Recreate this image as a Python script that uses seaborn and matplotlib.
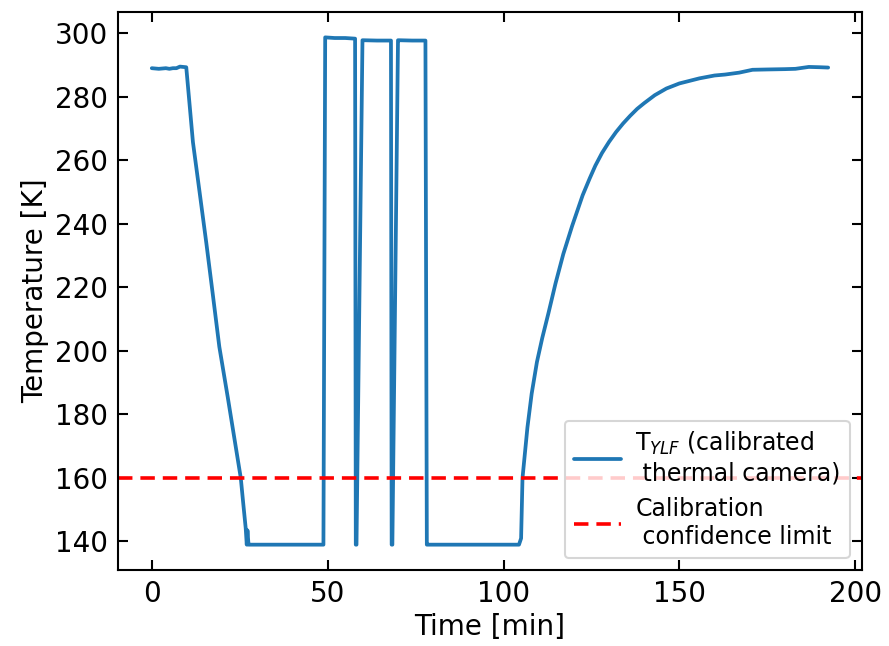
import numpy as np
import pandas as pd
import matplotlib
matplotlib.use("Agg")
import matplotlib.pyplot as plt
import seaborn as sns

# Time [min]
time_min = [0, 2, 4, 5, 6, 7, 8, 9.8, 11.7, 13.6, 15.5, 17.3, 19.2, 21.6, 23.9,
            25.3, 26.0, 26.7, 27.0, 27.2, 27.5, 28.0, 48.0, 48.8, 49.3, 52.0, 55.0, 57.8, 58.0, 58.2,
            59.9, 60.2, 64.0, 68.0, 68.2, 68.4, 70.0, 70.3, 74.0, 77.8, 78.2, 78.5, 104.4, 105.0, 105.4,
            106.8, 108.0, 109.5, 111.0, 112.8, 114.8, 117.0, 119.5, 122.5, 124.5, 126.1, 128.0, 130.0,
            132.0, 134.0, 136.0, 138.0, 140.0,
            143.0, 146.3, 150.0, 155.7, 160.0, 163.0, 167.0, 170.8, 175.0, 180.0, 183.0, 186.8, 190.0, 192.3]
# Temperature [K]
temp_k = [289.0, 288.8, 289.0, 288.8, 289.0, 289.0, 289.5, 289.3, 265.7, 249.9, 234.0, 218.2, 201.3, 185.4, 169.6,
          160.0, 152.0, 144.2, 139.0, 143.5, 139.0, 139.0, 139.0, 139.0, 298.7, 298.5, 298.5, 298.3, 139.0, 139.0,
          297.8, 297.8, 297.7, 297.7, 139.0, 139.0, 297.8, 297.8, 297.7, 297.7, 139.0, 139.0, 139.0, 141.0, 160.0,
          175.9, 186.5, 196.5, 204.0, 212.0, 221.3, 230.5, 239.3, 249.0, 254.3, 258.3, 262.3, 265.8,
          268.9, 271.6, 274.0, 276.2, 278.0,
          280.5, 282.6, 284.2, 285.8, 286.7, 287.0, 287.6, 288.5, 288.6, 288.7, 288.8, 289.4, 289.3, 289.2]

limit_value = 160
series_label = "T$_{YLF}$ (calibrated\n thermal camera)"
limit_label = "Calibration\n confidence limit"

df = pd.DataFrame({"Time [min]": time_min, "Temperature [K]": temp_k})

sns.set_style("ticks")
plt.rcParams["font.family"] = ["DejaVu Sans"]
plt.rcParams["text.color"] = "black"
plt.rcParams["axes.labelcolor"] = "black"
plt.rcParams["xtick.color"] = "black"
plt.rcParams["ytick.color"] = "black"

fig = plt.figure(figsize=(8.89, 6.46), dpi=100)
ax = fig.add_axes([0.1327, 0.1176, 0.8369, 0.8638])

sns.lineplot(data=df, x="Time [min]", y="Temperature [K]", ax=ax, sort=False, estimator=None,
             color="#1f77b4", linewidth=2.7, label=series_label)
ax.axhline(limit_value, color="red", linestyle="--", linewidth=2.6, dashes=(4, 2.2), label=limit_label)

ax.set_xticks([0, 50, 100, 150, 200])
ax.set_yticks([140, 160, 180, 200, 220, 240, 260, 280, 300])
ax.tick_params(direction="in", top=True, right=True, length=7, width=1.5, labelsize=20, pad=7,
               colors="black")
for s in ax.spines.values():
    s.set_linewidth(1.5)
    s.set_color("black")
    s.set_visible(True)
ax.set_xlabel("Time [min]", fontsize=20, color="black")
ax.set_ylabel("Temperature [K]", fontsize=20, color="black")

leg = ax.legend(loc="lower right", fontsize=17, frameon=True, handlelength=2.0,
                handletextpad=0.6, borderaxespad=0.5)
leg.get_frame().set_edgecolor("#cccccc")
leg.get_frame().set_linewidth(1.5)

fig.savefig("out.png", dpi=100)
